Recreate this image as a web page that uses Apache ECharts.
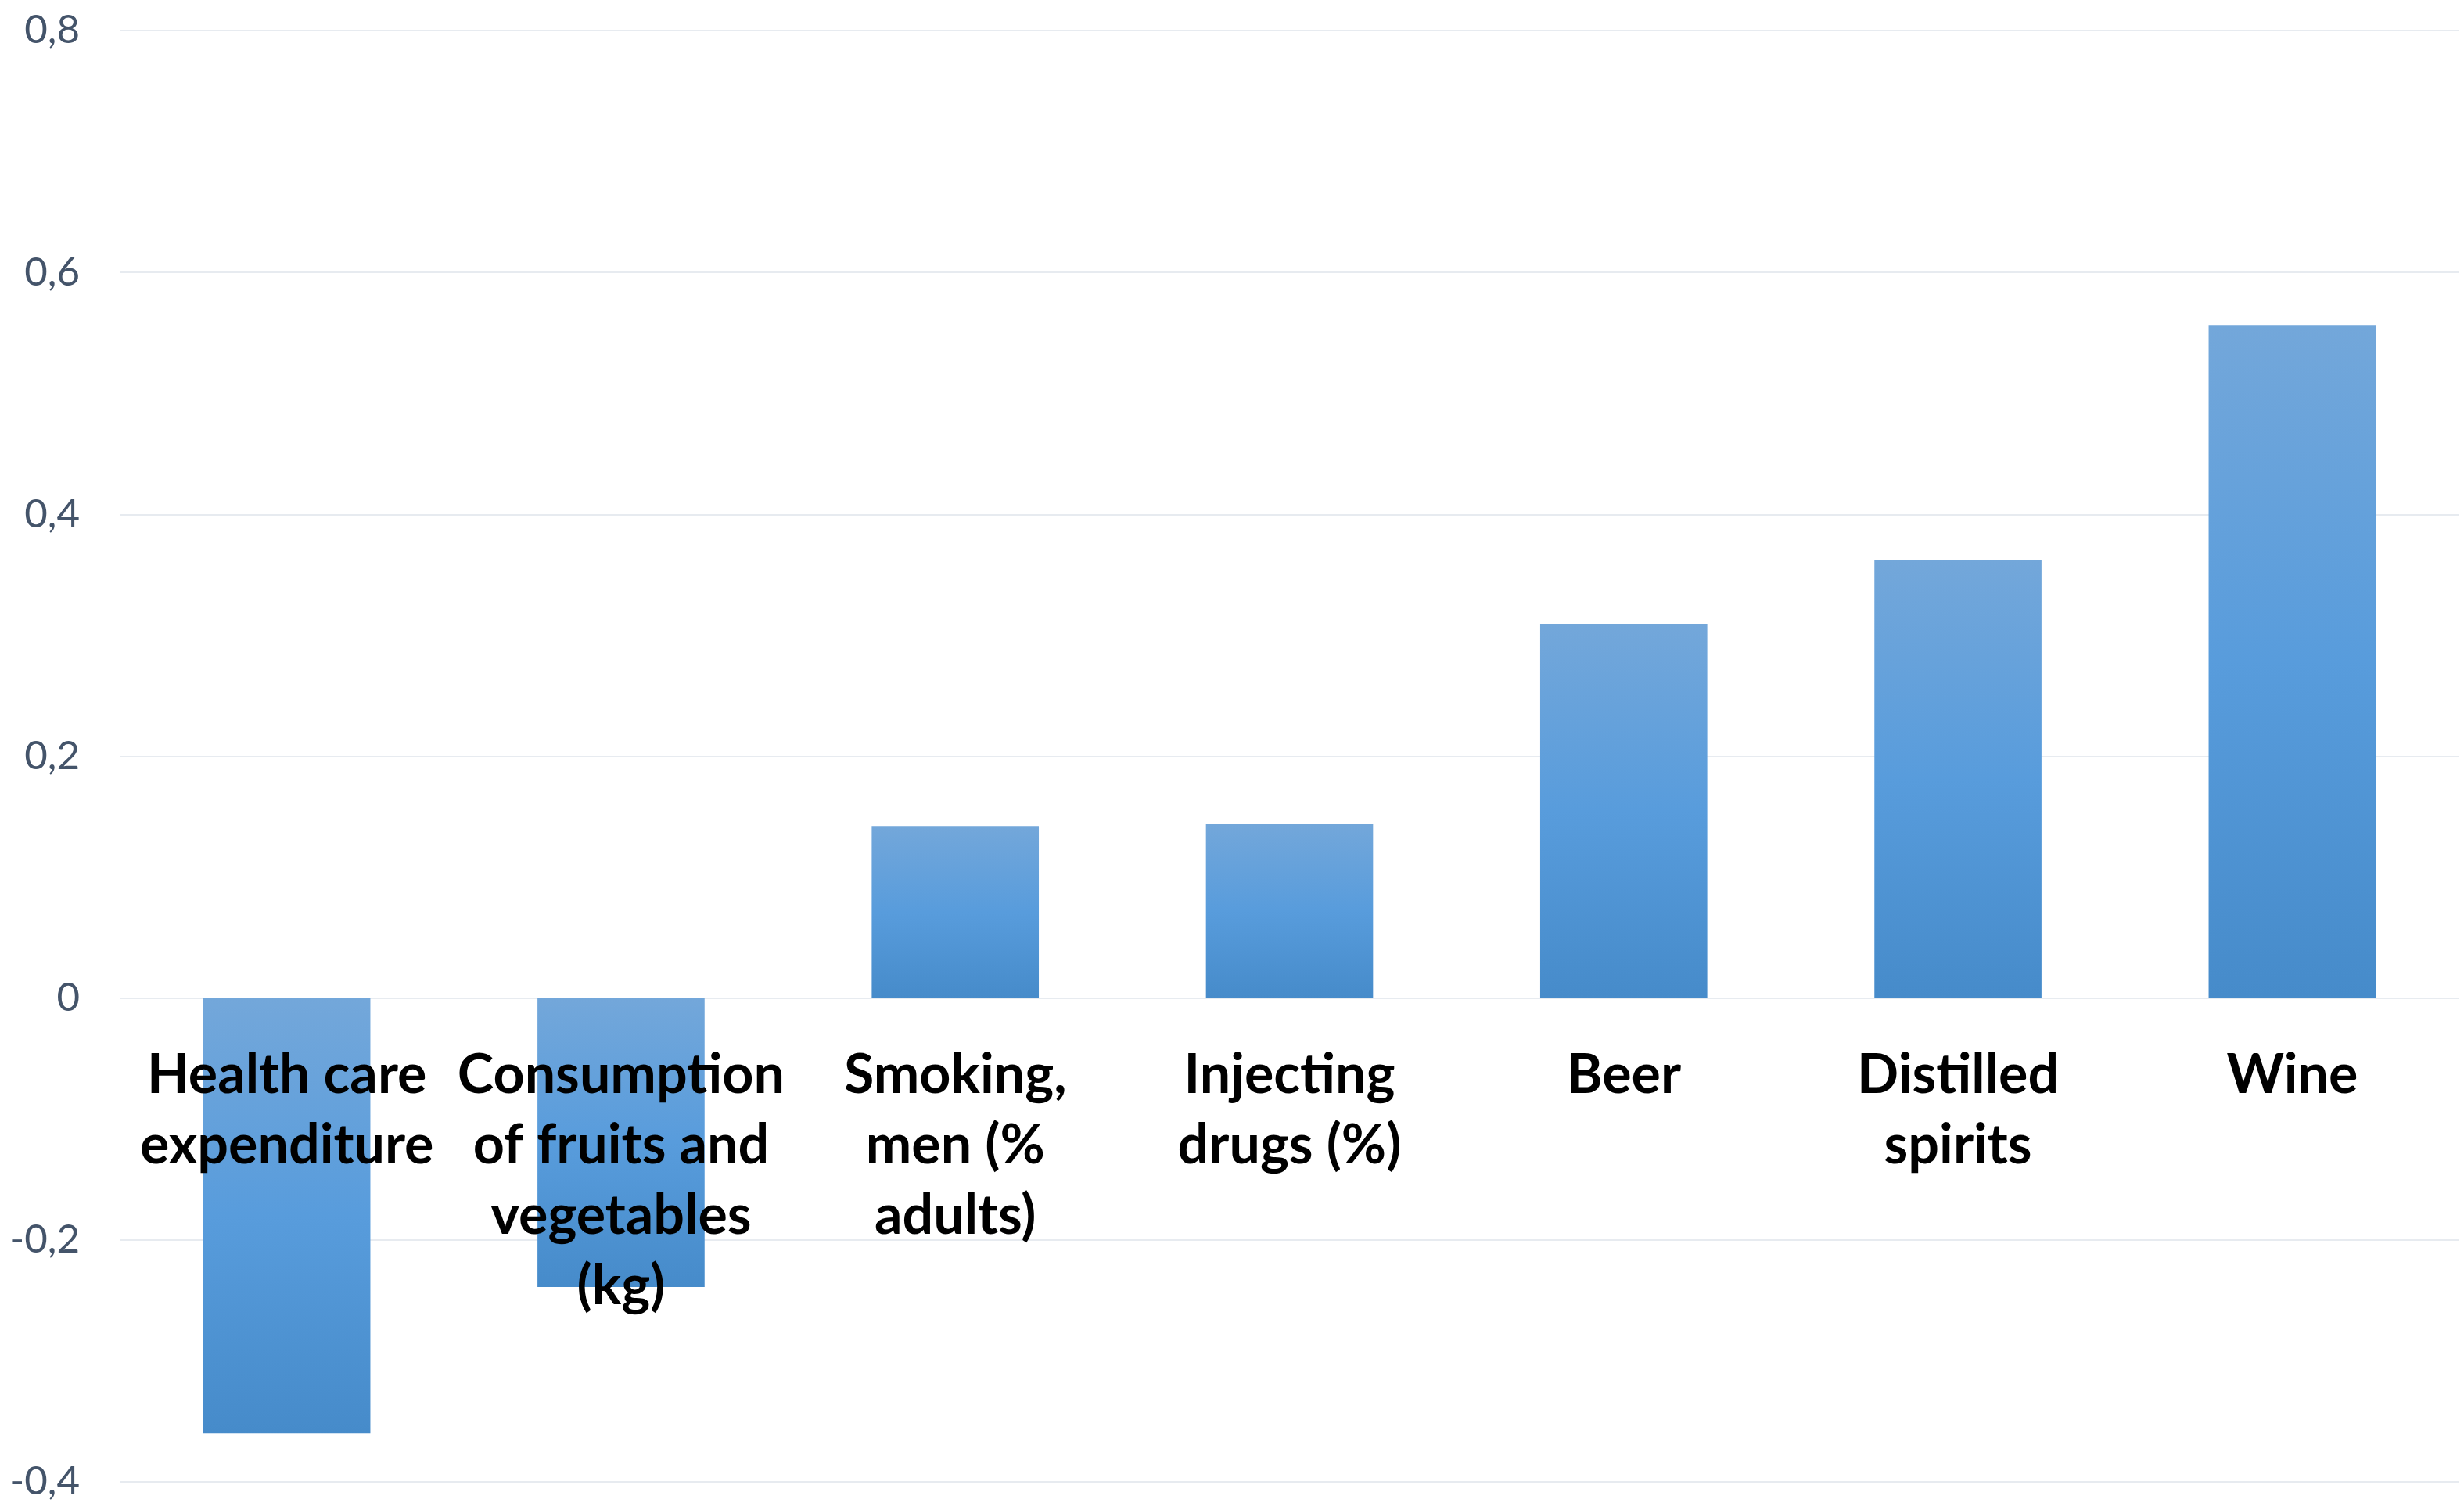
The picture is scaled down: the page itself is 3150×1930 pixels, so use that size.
<!DOCTYPE html>
<html>
<head>
<meta charset="utf-8">
<script src="https://cdn.jsdelivr.net/npm/echarts@6/dist/echarts.min.js"></script>
<style>
html,body{margin:0;padding:0;background:#fff;}
#chart{width:3150px;height:1930px;}
</style>
</head>
<body>
<div id="chart"></div>
<script>
const categories = [
  "Health care\nexpenditure",
  "Consumption\nof fruits and\nvegetables\n(kg)",
  "Smoking,\nmen (%\nadults)",
  "Injecting\ndrugs (%)",
  "Beer",
  "Distilled\nspirits",
  "Wine"
];
const values = [-0.36, -0.239, 0.142, 0.144, 0.309, 0.362, 0.556];
const yMin = -0.4, yMax = 0.8, yStep = 0.2;

const gridTop = 39, gridBottom = 36, H = 1930;
const plotH = H - gridTop - gridBottom;
const zeroFromBottom = plotH * (0 - yMin) / (yMax - yMin);

const chart = echarts.init(document.getElementById('chart'), null, {renderer: 'canvas'});
chart.setOption({
  backgroundColor: '#ffffff',
  animation: false,
  grid: {left: 153, right: 6, top: gridTop, bottom: gridBottom, containLabel: false, outerBoundsMode: 'none'},
  xAxis: {
    type: 'category',
    data: categories,
    z: 10,
    offset: -zeroFromBottom,
    axisLine: {show: false, onZero: false},
    axisTick: {show: false},
    axisLabel: {
      interval: 0,
      margin: 54,
      color: '#000000',
      fontFamily: 'Lato',
      fontWeight: 'bold',
      fontSize: 70,
      lineHeight: 90,
      align: 'center',
      hideOverlap: false
    }
  },
  yAxis: {
    type: 'value',
    min: yMin, max: yMax, interval: yStep,
    axisLine: {show: false},
    axisTick: {show: false},
    splitLine: {lineStyle: {color: '#dfe4eb', width: 1.5}},
    axisLabel: {
      margin: 51,
      color: '#44546a',
      fontFamily: 'Lato',
      fontSize: 51,
      formatter: function (v) {
        const r = Math.round(v * 10) / 10;
        return r === 0 ? '0' : String(r).replace('.', ',');
      }
    }
  },
  series: [{
    type: 'bar',
    data: values,
    barCategoryGap: '50%',
    itemStyle: {
      color: new echarts.graphic.LinearGradient(0, 0, 0, 1, [
        {offset: 0, color: '#73a7da'},
        {offset: 0.5, color: '#589cdc'},
        {offset: 1, color: '#468bca'}
      ])
    }
  }]
});
</script>
</body>
</html>
